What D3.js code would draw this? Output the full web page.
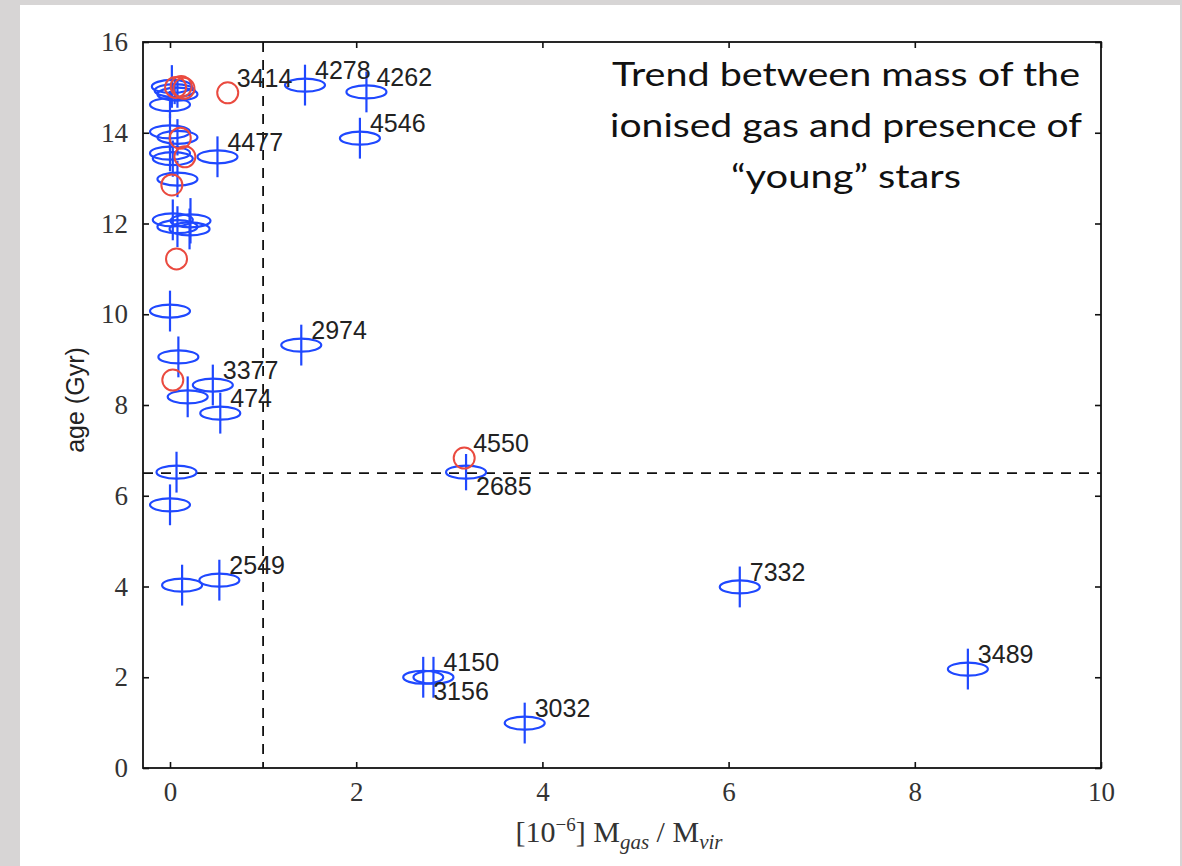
<!DOCTYPE html>
<html>
<head>
<meta charset="utf-8">
<script src="https://cdn.jsdelivr.net/npm/d3@7"></script>
<style>
  html, body { margin: 0; padding: 0; background: #d7d5d5; }
  svg { display: block; }
</style>
</head>
<body>
<svg id="chart" width="1182" height="866"></svg>
<script>
// ---------------- data ----------------
const xTicks = [0, 2, 4, 6, 8, 10];
const yTicks = [0, 2, 4, 6, 8, 10, 12, 14, 16];

// blue galaxies (ellipse marker + vertical error bar)
const blueX   = [0.02, 0.05, 0.08, 0.00, 0.00, 0.08, 0.00, 0.03, 0.08, 0.03, 0.22, 0.08, 0.21,
                 0.00, 0.09, 0.19, 0.46, 0.54, 0.07, 0.00, 0.13, 0.53, 0.51,
                 1.45, 2.11, 2.04, 1.41, 3.18, 6.12, 8.57, 2.72, 2.83, 3.81];
const blueY   = [15.02, 14.93, 14.85, 14.62, 14.02, 13.90, 13.55, 13.43, 12.98, 12.08, 12.06, 11.93, 11.88,
                 10.07, 9.06, 8.18, 8.44, 7.82, 6.52, 5.80, 4.03, 4.14, 13.47,
                 15.05, 14.90, 13.88, 9.32, 6.52, 3.99, 2.18, 2.00, 2.00, 0.99];
const blueErr = [0.47, 0.30, 0.30, 0.30, 0.40, 0.40, 0.40, 0.40, 0.40, 0.45, 0.50, 0.45, 0.45,
                 0.45, 0.45, 0.45, 0.45, 0.45, 0.45, 0.45, 0.45, 0.45, 0.45,
                 0.45, 0.45, 0.45, 0.45, 0.40, 0.45, 0.45, 0.45, 0.45, 0.45];
const blueLabel = ["", "", "", "", "", "", "", "", "", "", "", "", "",
                   "", "", "", "3377", "474", "", "", "", "2549", "4477",
                   "4278", "4262", "4546", "2974", "2685", "7332", "3489", "3156", "4150", "3032"];
const blueLabelBelow = ["2685", "3156"];

// red galaxies (open circles)
const redX = [0.62, 0.06, 0.12, 0.15, 0.11, 0.16, 0.02, 0.07, 0.03, 3.16];
const redY = [14.88, 15.00, 15.02, 14.98, 13.88, 13.47, 12.85, 11.22, 8.55, 6.83];
const redLabel = ["3414", "", "", "", "", "", "", "", "", "4550"];

const refX = 1.0;   // vertical dashed reference
const refY = 6.5;   // horizontal dashed reference

const titleLines = ["Trend between mass of the", "ionised gas and presence of", "\u201Cyoung\u201D stars"];
const titleWidths = [468, 472, 230];

// ---------------- drawing ----------------
const svg = d3.select("#chart");
const W = 1182, H = 866;

svg.append("rect").attr("x", 0).attr("y", 0).attr("width", W).attr("height", H).attr("fill", "#d7d5d5");
svg.append("rect").attr("x", 20).attr("y", 5).attr("width", 1160).attr("height", H - 5).attr("fill", "#ffffff");

const L = 143, R = 1101, T = 42, B = 768;
const x = d3.scaleLinear().domain([-0.29, 10]).range([L, R]);
const y = d3.scaleLinear().domain([0, 16]).range([B, T]);

const blue = "#1f48ff";
const red = "#ea4a3f";
const serif = "'Liberation Serif', 'DejaVu Serif', serif";
const sans = "'Liberation Sans', Arial, sans-serif";

// axes (inward ticks)
const axB = svg.append("g").attr("transform", `translate(0,${B})`)
  .call(d3.axisBottom(x).tickValues(xTicks).tickSize(-6).tickPadding(14).tickFormat(d3.format("d")));
const axT = svg.append("g").attr("transform", `translate(0,${T})`)
  .call(d3.axisTop(x).tickValues(xTicks).tickSize(-6).tickFormat(""));
const axL = svg.append("g").attr("transform", `translate(${L},0)`)
  .call(d3.axisLeft(y).tickValues(yTicks).tickSize(-6).tickPadding(15).tickFormat(d3.format("d")));
const axR = svg.append("g").attr("transform", `translate(${R},0)`)
  .call(d3.axisRight(y).tickValues(yTicks).tickSize(-6).tickFormat(""));
[axB, axT, axL, axR].forEach(g => {
  g.select(".domain").remove();
  g.selectAll(".tick line").attr("stroke", "#111").attr("stroke-width", 1.6);
  g.selectAll(".tick text").attr("font-family", serif).attr("font-size", 27).attr("fill", "#333");
});

// reference dashed lines
svg.append("line").attr("x1", x(refX)).attr("x2", x(refX)).attr("y1", T).attr("y2", B)
  .attr("stroke", "#111").attr("stroke-width", 1.8).attr("stroke-dasharray", "10,8");
svg.append("line").attr("x1", L).attr("x2", R).attr("y1", y(refY)).attr("y2", y(refY))
  .attr("stroke", "#111").attr("stroke-width", 1.8).attr("stroke-dasharray", "10,8");

// points
const blueData = blueX.map((v, i) => ({x: v, y: blueY[i], e: blueErr[i], label: blueLabel[i]}));
const redData = redX.map((v, i) => ({x: v, y: redY[i], label: redLabel[i]}));

const gB = svg.append("g");
gB.selectAll("ellipse").data(blueData).join("ellipse")
  .attr("cx", d => x(d.x)).attr("cy", d => y(d.y))
  .attr("rx", 20).attr("ry", 6.5)
  .attr("fill", "none").attr("stroke", blue).attr("stroke-width", 2.2);

const gR = svg.append("g");
gR.selectAll("circle").data(redData).join("circle")
  .attr("cx", d => x(d.x)).attr("cy", d => y(d.y)).attr("r", 10.5)
  .attr("fill", "none").attr("stroke", red).attr("stroke-width", 2);

gB.selectAll("line.err").data(blueData).join("line").attr("class", "err")
  .attr("x1", d => x(d.x)).attr("x2", d => x(d.x))
  .attr("y1", d => y(d.y + d.e)).attr("y2", d => y(d.y - d.e))
  .attr("stroke", blue).attr("stroke-width", 2.2);

// frame
svg.append("rect").attr("x", L).attr("y", T).attr("width", R - L).attr("height", B - T)
  .attr("fill", "none").attr("stroke", "#111").attr("stroke-width", 1.8);

// point labels
const labG = svg.append("g").attr("font-family", sans).attr("font-size", 25).attr("fill", "#222");
blueData.filter(d => d.label).forEach(d => {
  const below = blueLabelBelow.includes(d.label);
  labG.append("text").attr("x", x(d.x) + 10).attr("y", y(d.y) + (below ? 23 : -6)).text(d.label);
});
redData.filter(d => d.label).forEach(d => {
  labG.append("text").attr("x", x(d.x) + 9).attr("y", y(d.y) - 6).text(d.label);
});

// axis labels
svg.append("text").attr("transform", `translate(84,400) rotate(-90)`)
  .attr("text-anchor", "middle").attr("font-family", sans).attr("font-size", 25).attr("fill", "#222")
  .text("age (Gyr)");

const xl = svg.append("text").attr("x", 619).attr("y", 842).attr("text-anchor", "middle")
  .attr("font-family", serif).attr("font-size", 30).attr("fill", "#333");
xl.append("tspan").text("[10");
xl.append("tspan").attr("dy", -11).attr("font-size", 19).text("\u22126");
xl.append("tspan").attr("dy", 11).text("] M");
xl.append("tspan").attr("dy", 7).attr("font-size", 21).attr("font-style", "italic").text("gas");
xl.append("tspan").attr("dy", -7).text(" / M");
xl.append("tspan").attr("dy", 7).attr("font-size", 21).attr("font-style", "italic").text("vir");

// title
const tt = svg.append("text").attr("text-anchor", "middle").attr("font-family", "Lato, 'Open Sans', sans-serif")
  .attr("font-size", 33).attr("fill", "#111");
titleLines.forEach((s, i) => {
  tt.append("tspan").attr("x", 846).attr("y", 86 + i * 51)
    .attr("textLength", titleWidths[i]).attr("lengthAdjust", "spacingAndGlyphs").text(s);
});
</script>
</body>
</html>
